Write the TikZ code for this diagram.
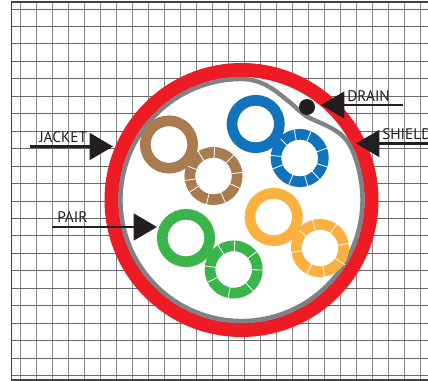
\documentclass[tikz,border=0pt]{standalone}
\usepackage{fontspec}
\setmainfont{PT Sans}
\usetikzlibrary{arrows.meta}
\definecolor{ink}{RGB}{35,31,32}
\definecolor{jacketred}{RGB}{237,28,36}
\definecolor{shieldgray}{RGB}{128,130,133}
\definecolor{gridgray}{RGB}{135,135,135}
\definecolor{griddark}{RGB}{105,105,105}
\definecolor{pairbrown}{RGB}{169,124,80}
\definecolor{pairblue}{RGB}{16,115,187}
\definecolor{pairgreen}{RGB}{57,181,74}
\definecolor{pairorange}{RGB}{251,176,64}

\begin{document}
\begin{tikzpicture}[
  x=0.75pt, y=-0.75pt,
  gridv/.style={color=gridgray, line width=0.7pt},
  gridh/.style={color=griddark, line width=0.6pt},
  frameline/.style={color=ink!85, line width=0.9pt},
  pointer/.style={-{Triangle[length=17.5pt, width=20pt]}, color=ink, line width=2pt},
  label/.style={font=\fontsize{11.5}{12}\selectfont, color=ink, inner sep=0pt},
  core/.style={line width=8pt},
  spoke/.style={color=white, line width=0.6pt}
]
\useasboundingbox[fill=white] (0,0) rectangle (428,381);
% grid
\foreach \gx in {20,36,...,420}
  \draw[gridv] (\gx,2) -- (\gx,380);
\foreach \gy in {0,...,21}
  \draw[gridh] (11.5,9+17.45*\gy) -- (428,9+17.45*\gy);
\draw[frameline] (428,2) -- (11.5,2) -- (11.5,380) -- (428,380);
% jacket and shield
\coordinate (cable) at (241.5,200);
\draw[jacketred, fill=white, line width=10.5pt] (cable) circle[radius=130];
\draw[shieldgray, line width=3.3pt] (241.5,79) arc[start angle=270, end angle=-12.7, radius=121]
  .. controls (357,160) and (352,148) .. (347,141)
  .. controls (339,130) and (325,125) .. (314,120)
  .. controls (303,116) and (295,106) .. (287,100)
  .. controls (276,91) and (262,79) .. (241.5,79) -- cycle;
\fill[ink] (307,107) circle[radius=8];
% twisted pairs: striped core first, then the solid one over it
\foreach \cx/\cy/\pcol/\angles in {
  213.5/176/pairbrown/{88,46,7,-25,-66,-104,-146,-171,159,122},
  299.7/158/pairblue/{101,67,20,-18,-47,-74,-112,-158,175,135},
  233.7/269.5/pairgreen/{88,38,-1,-48,-101,-154,173,123},
  320/248/pairorange/{105,55,9,-34,-81,-117,-171,140}} {
  \draw[\pcol, core] (\cx,\cy) circle[radius=23.7];
  \foreach \a in \angles
    \draw[spoke] (\cx,\cy) ++(-\a:18) -- ++(-\a:12);
}
\foreach \cx/\cy/\pcol in {169/144.5/pairbrown, 255.7/124/pairblue, 186/238/pairgreen, 273.7/217/pairorange}
  \draw[\pcol, core] (\cx,\cy) circle[radius=23.7];
% labels and arrows
\node[label, anchor=west] (jacket) at (39,137.5) {JACKET};
\node[label, anchor=west] (pair) at (57,217) {PAIR};
\node[label, anchor=west] (drain) at (347,96.5) {DRAIN};
\node[label, anchor=west] (shield) at (382,134.5) {SHIELD};
\coordinate (jacketfrom) at (30,146.5);
\coordinate (jacketto) at (113,146.5);
\coordinate (pairfrom) at (52,227);
\coordinate (pairto) at (157,227);
\coordinate (drainfrom) at (403,105);
\coordinate (drainto) at (321,105);
\coordinate (shieldfrom) at (428,143.5);
\coordinate (shieldto) at (356,143.5);
\draw[pointer] (jacketfrom) -- (jacketto);
\draw[pointer] (pairfrom) -- (pairto);
\draw[pointer] (drainfrom) -- (drainto);
\draw[pointer] (shieldfrom) -- (shieldto);
\end{tikzpicture}
\end{document}
